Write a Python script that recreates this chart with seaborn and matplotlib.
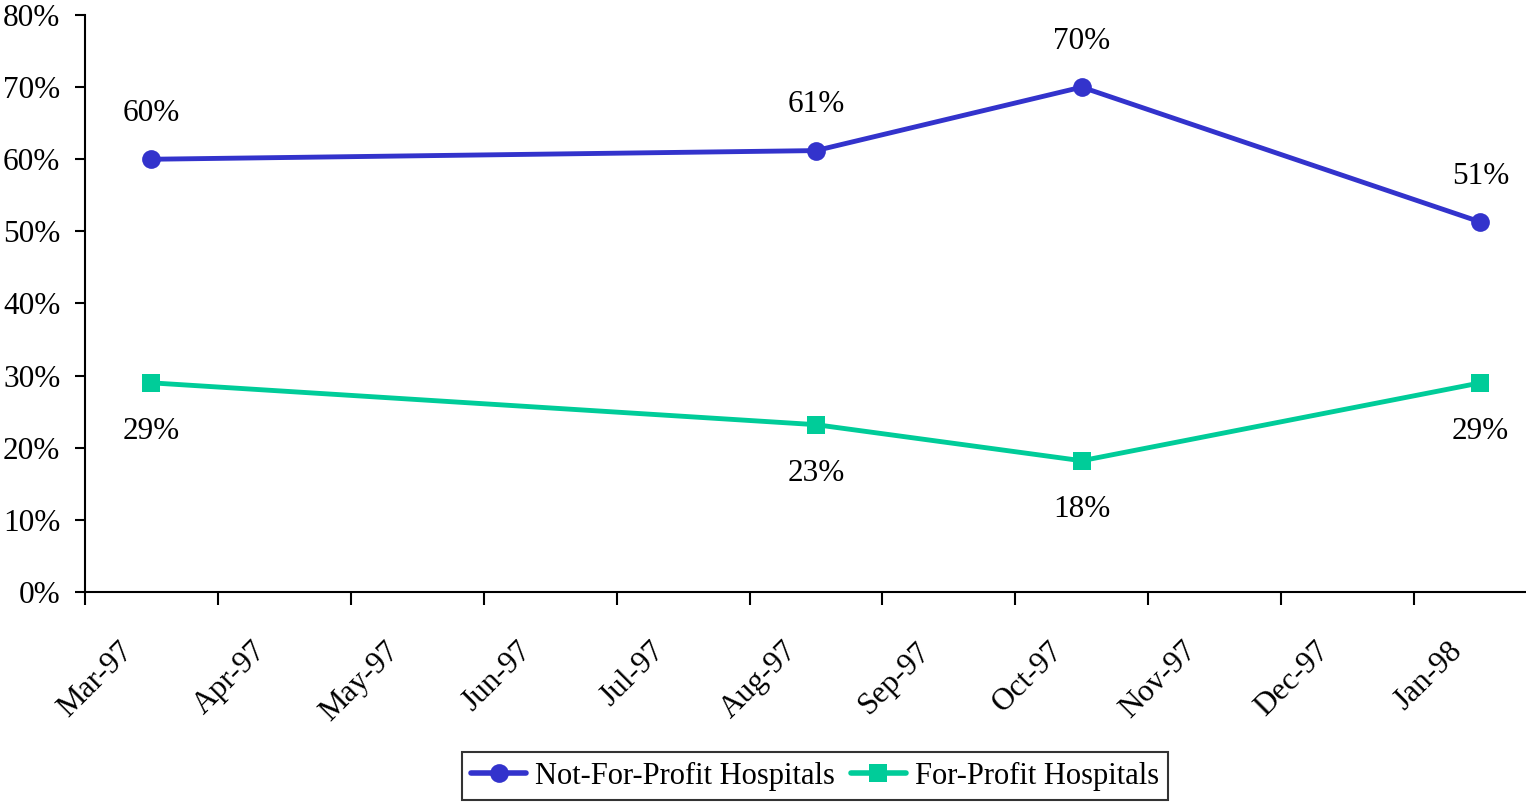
import matplotlib
matplotlib.use("Agg")
import matplotlib.pyplot as plt
import matplotlib.transforms as mtransforms
import seaborn as sns
import pandas as pd
from matplotlib.ticker import FixedLocator, FuncFormatter

months = ["Mar-97", "Apr-97", "May-97", "Jun-97", "Jul-97", "Aug-97",
          "Sep-97", "Oct-97", "Nov-97", "Dec-97", "Jan-98"]
survey_months = ["Mar-97", "Aug-97", "Oct-97", "Jan-98"]
not_for_profit = [60.0, 61.2, 70.0, 51.3]
for_profit = [29.0, 23.2, 18.2, 29.0]
series_names = ["Not-For-Profit Hospitals", "For-Profit Hospitals"]
yticks = [0, 10, 20, 30, 40, 50, 60, 70, 80]

sns.set_theme(style="white")
plt.rcParams["font.family"] = ["Liberation Serif", "DejaVu Serif"]
plt.rcParams["text.color"] = "black"
plt.rcParams["xtick.color"] = "black"
plt.rcParams["ytick.color"] = "black"
plt.rcParams["axes.labelcolor"] = "black"

FS = 22.5
LW = 3.5
MS = 13.5

rows = []
for name, vals in zip(series_names, [not_for_profit, for_profit]):
    for m, v in zip(survey_months, vals):
        rows.append({"series": name, "month": m, "pos": months.index(m), "value": v})
df = pd.DataFrame(rows)

W, H = 1526, 806
fig = plt.figure(figsize=(W / 100, H / 100), dpi=100)
left, right_px = 85, 1526
bottom, top = 806 - 592, 806 - 15
ax = fig.add_axes([left / W, bottom / H, (right_px - left) / W, (top - bottom) / H])

colors = {"Not-For-Profit Hospitals": "#3333CC", "For-Profit Hospitals": "#00CC99"}
sns.lineplot(data=df, x="pos", y="value", hue="series", style="series",
             palette=colors, markers={"Not-For-Profit Hospitals": "o", "For-Profit Hospitals": "s"},
             dashes=False, linewidth=LW, markersize=MS, markeredgewidth=0,
             ax=ax, legend=True)

band = 132.9
ax.set_xlim(-0.5, -0.5 + (right_px - left) / band)
ax.set_ylim(0, 80)

# data labels
for name, vals, off in [(series_names[0], not_for_profit, 33), (series_names[1], for_profit, -35)]:
    for m, v in zip(survey_months, vals):
        ax.annotate(f"{v:.0f}%", (months.index(m), v), xytext=(0, off),
                    textcoords="offset points", ha="center", va="center", fontsize=FS)

# axes styling
for s in ["top", "right"]:
    ax.spines[s].set_visible(False)
for s in ["left", "bottom"]:
    ax.spines[s].set_color("black")
    ax.spines[s].set_linewidth(1.5)

ax.set_yticks(yticks)
ax.yaxis.set_major_formatter(FuncFormatter(lambda v, p: f"{v:.0f}%"))
ax.tick_params(axis="y", direction="out", length=7.2, width=1.5, color="black",
               labelsize=FS, pad=10.5, left=True, labelcolor="black")

ax.xaxis.set_major_locator(FixedLocator([i - 0.5 for i in range(len(months) + 1)]))
ax.xaxis.set_minor_locator(FixedLocator(list(range(len(months)))))
ax.set_xticklabels([], minor=False)
ax.set_xticklabels(months, minor=True)
ax.tick_params(axis="x", which="major", direction="out", length=9, width=1.5, color="black", bottom=True)
ax.tick_params(axis="x", which="minor", length=0, labelsize=FS, pad=32, labelcolor="black")
shift = mtransforms.ScaledTranslation(-33 / 100, 0, fig.dpi_scale_trans)
for lbl in ax.get_xticklabels(minor=True):
    lbl.set_rotation(45)
    lbl.set_ha("right")
    lbl.set_rotation_mode("anchor")
    lbl.set_transform(lbl.get_transform() + shift)
ax.set_xlabel("")
ax.set_ylabel("")
ax.grid(False)

handles, labels = ax.get_legend_handles_labels()
ax.legend_.remove()
leg = fig.legend(handles, labels, loc="center", bbox_to_anchor=(815 / W, 1 - 776 / H),
                 ncol=2, fontsize=22, frameon=True, fancybox=False, edgecolor="black",
                 handlelength=1.8, handletextpad=0.3, columnspacing=0.5, borderpad=0.3)
leg.get_frame().set_linewidth(1.5)
for t in leg.get_texts():
    t.set_color("black")
for h in leg.legend_handles:
    h.set_linewidth(LW + 0.5)
    h.set_markersize(MS)

fig.savefig("out.png", dpi=100)
